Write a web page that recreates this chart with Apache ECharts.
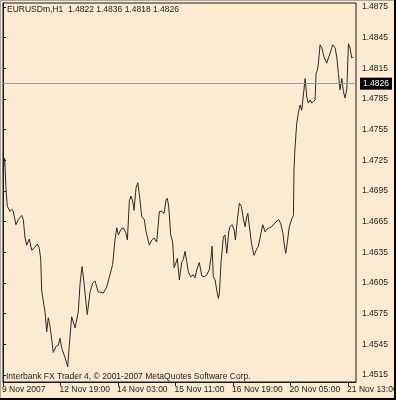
<!DOCTYPE html>
<html>
<head>
<meta charset="utf-8">
<script src="https://cdn.jsdelivr.net/npm/echarts@6/dist/echarts.min.js"></script>
<style>
html,body{margin:0;padding:0;background:#FDEBD1;}
#c{width:396px;height:400px;}
</style>
</head>
<body>
<div id="c"></div>
<script>
// hourly bar offsets (from 9 Nov 2007 first bar) and closing prices
const hourOffsets = [0,0.9,1.7,2.4,3.9,5.0,5.7,7.2,8.5,10.4,11.3,12.2,13.2,14.6,16.0,17.8,19.1,20.2,21.0,21.5,23.4,24.3,25.2,26.2,28.0,29.5,30.8,31.7,32.7,34.5,36.0,36.9,38.2,40.1,41.9,42.9,44.0,45.1,46.2,46.9,48.4,49.9,51.2,53.0,54.4,55.8,57.7,59.5,61.0,62.3,63.3,64.2,65.5,66.9,68.4,69.2,70.3,71.2,72.2,72.9,74.0,75.0,75.9,77.2,78.6,79.6,81.4,82.8,84.0,85.5,87.0,88.3,89.6,90.7,91.4,92.2,93.3,94.4,95.2,96.3,97.0,98.1,99.4,100.3,101.3,102.2,103.1,104.5,105.9,106.8,107.8,109.2,110.6,111.9,113.4,114.8,115.8,116.3,117.0,118.0,118.9,119.8,120.4,121.3,122.6,123.5,124.5,125.6,126.3,127.4,128.6,129.3,130.4,131.5,132.6,133.7,134.7,135.6,136.2,137.1,138.4,139.7,140.8,142.1,143.0,144.5,145.8,147.1,148.2,149.5,150.8,151.9,153.4,154.5,155.7,156.4,157.3,158.2,159.3,160.7,161.6,161.9,162.5,163.4,164.3,165.3,166.2,167.1,168.1,169.0,169.9,170.8,171.8,172.7,173.6,174.2,174.9,175.5,176.4,177.4,178.6,180.1,181.0,182.0,183.5,184.8,185.7,186.6,187.5,188.5,189.4,190.3,191.3,192.2,193.1,194.0,194.9];
const closes = [1.4714,1.4727,1.4696,1.4680,1.4675,1.4677,1.4675,1.4662,1.4667,1.4671,1.4667,1.4650,1.4642,1.4648,1.4637,1.4640,1.4643,1.4639,1.4628,1.4598,1.4576,1.4557,1.4571,1.4562,1.4537,1.4543,1.4544,1.4551,1.4541,1.4532,1.4523,1.4544,1.4572,1.4561,1.4577,1.4605,1.4621,1.4605,1.4585,1.4574,1.4596,1.4605,1.4607,1.4596,1.4596,1.4595,1.4601,1.4613,1.4623,1.4647,1.4659,1.4652,1.4657,1.4659,1.4654,1.4647,1.4685,1.4690,1.4685,1.4676,1.4698,1.4703,1.4691,1.4670,1.4667,1.4655,1.4642,1.4647,1.4649,1.4645,1.4675,1.4675,1.4673,1.4686,1.4688,1.4680,1.4652,1.4645,1.4620,1.4625,1.4629,1.4608,1.4625,1.4628,1.4636,1.4626,1.4616,1.4611,1.4613,1.4610,1.4618,1.4625,1.4612,1.4611,1.4613,1.4618,1.4631,1.4641,1.4611,1.4608,1.4598,1.4590,1.4595,1.4625,1.4650,1.4652,1.4634,1.4655,1.4660,1.4662,1.4657,1.4647,1.4667,1.4683,1.4680,1.4668,1.4660,1.4670,1.4673,1.4660,1.4642,1.4632,1.4637,1.4641,1.4649,1.4662,1.4655,1.4658,1.4657,1.4660,1.4663,1.4663,1.4667,1.4663,1.4654,1.4644,1.4634,1.4645,1.4660,1.4668,1.4671,1.4716,1.4738,1.4761,1.4771,1.4779,1.4774,1.4773,1.4805,1.4787,1.4781,1.4784,1.4781,1.4782,1.4784,1.4810,1.4813,1.4820,1.4838,1.4835,1.4826,1.4820,1.4821,1.4830,1.4838,1.4835,1.4826,1.4810,1.4794,1.4805,1.4792,1.4786,1.4795,1.4839,1.4835,1.4825,1.4826];
const xTickOffsets = [0,32,64,96,128,160,192];
const xTickLabels = ['9 Nov 2007','12 Nov 19:00','14 Nov 03:00','15 Nov 11:00','16 Nov 19:00','20 Nov 05:00','21 Nov 13:00'];
const yTickValues = [1.4515,1.4545,1.4575,1.4605,1.4635,1.4665,1.4695,1.4725,1.4755,1.4785,1.4815,1.4845,1.4875];
const lastPrice = 1.4826;
const titleText = 'EURUSDm,H1  1.4822 1.4836 1.4818 1.4826';
const footerText = 'Interbank FX Trader 4, \u00A9 2001-2007 MetaQuotes Software Corp.';

const FONT = '"Liberation Sans", Arial, sans-serif';
const FS = 8.5;
const data = hourOffsets.map((h, i) => [h, closes[i]]);

const chart = echarts.init(document.getElementById('c'), null, {renderer: 'canvas'});
chart.setOption({
  animation: false,
  backgroundColor: '#FDEBD1',
  grid: {left: 3, right: 40, top: 3, bottom: 18, outerBoundsMode: 'none', containLabel: false,
         show: true, borderColor: '#1a1a1a', borderWidth: 1, backgroundColor: 'transparent'},
  xAxis: {
    type: 'value', min: 0, max: 196.4,
    axisLine: {show: true, lineStyle: {color: '#1a1a1a', width: 1}},
    axisTick: {show: true, length: 4, customValues: xTickOffsets, lineStyle: {color: '#1a1a1a'}},
    axisLabel: {
      customValues: xTickOffsets, align: 'left', margin: 3,
      color: '#1a1a1a', fontFamily: FONT, fontSize: FS, padding: [0,0,0,-1],
      hideOverlap: false,
      formatter: v => xTickLabels[xTickOffsets.indexOf(Math.round(v))] || ''
    },
    splitLine: {show: false}
  },
  yAxis: {
    type: 'value', position: 'right', min: 1.45081, max: 1.48789, scale: true,
    axisLine: {show: true, lineStyle: {color: '#1a1a1a', width: 1}},
    axisTick: {show: true, length: 3, customValues: yTickValues, lineStyle: {color: '#1a1a1a'}},
    axisLabel: {
      customValues: yTickValues, margin: 6,
      color: '#1a1a1a', fontFamily: FONT, fontSize: FS,
      formatter: v => v.toFixed(4)
    },
    splitLine: {show: false}
  },
  series: [{
    type: 'line', data: data, symbol: 'none', smooth: false,
    lineStyle: {color: '#2a2a2a', width: 1},
    markLine: {
      silent: true, symbol: 'none',
      lineStyle: {color: '#9098b4', width: 1, type: 'solid'},
      label: {
        show: true, position: 'end', distance: 4,
        formatter: () => lastPrice.toFixed(4),
        color: '#fff', backgroundColor: '#000', padding: [2, 3, 1, 3],
        fontFamily: FONT, fontSize: FS
      },
      data: [{yAxis: lastPrice}]
    }
  }],
  graphic: [
    {type: 'text', x: 7, y: 5, style: {text: titleText, fill: '#1a1a1a', font: FS + 'px ' + FONT}},
    {type: 'text', x: 6, y: 372, style: {text: footerText, fill: '#1a1a1a', font: FS + 'px ' + FONT}},
    {type: 'rect', shape: {x: 0, y: 0, width: 396, height: 1}, style: {fill: '#a8a8a8'}},
    {type: 'rect', shape: {x: 0, y: 0, width: 1, height: 400}, style: {fill: '#a8a8a8'}},
    {type: 'rect', shape: {x: 394, y: 0, width: 2, height: 400}, style: {fill: '#000'}},
    {type: 'rect', shape: {x: 0, y: 398, width: 396, height: 2}, style: {fill: '#000'}}
  ]
});
</script>
</body>
</html>
